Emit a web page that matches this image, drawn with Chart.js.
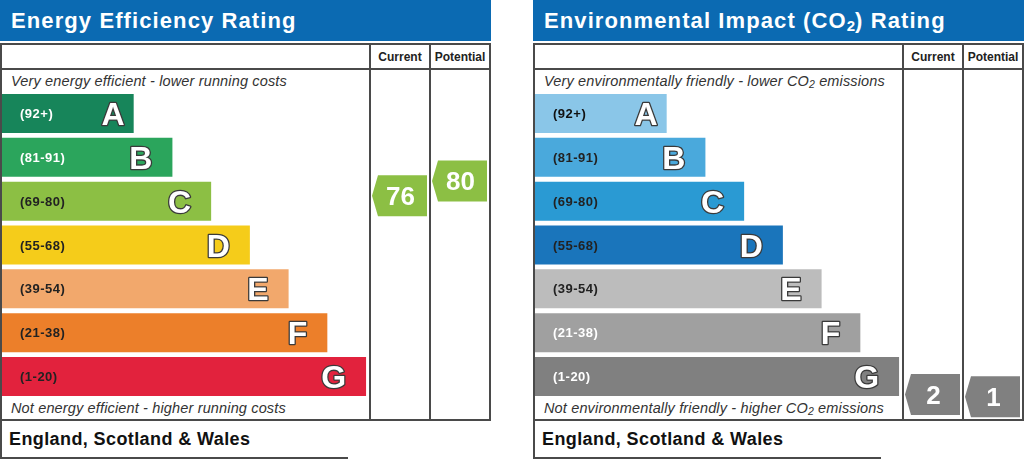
<!DOCTYPE html>
<html><head><meta charset="utf-8">
<script src="https://cdn.jsdelivr.net/npm/chart.js@4.4.1/dist/chart.umd.min.js"></script>
<style>
html,body{margin:0;padding:0;}
body{width:1024px;height:460px;background:#fff;overflow:hidden;position:relative;font-family:"Liberation Sans",Arial,sans-serif;}
.panel{position:absolute;top:0;width:491px;height:460px;}
.hdr{position:absolute;left:0;top:0;width:491px;height:41px;background:#0b6ab2;color:#fff;font-weight:bold;font-size:22px;letter-spacing:1.1px;line-height:41px;padding-left:11px;box-sizing:border-box;white-space:nowrap;}
.hdr sub{font-size:15px;vertical-align:-3px;line-height:0;letter-spacing:0;}
.box{position:absolute;left:0;top:43px;width:491px;height:378px;border:2px solid #4a4a4a;box-sizing:border-box;}
.vl{position:absolute;top:43px;width:2px;height:378px;background:#4a4a4a;}
.hl{position:absolute;left:0;top:68px;width:491px;height:2px;background:#4a4a4a;}
.col{position:absolute;top:46px;height:23px;line-height:23px;width:60px;text-align:center;font-weight:bold;font-size:12px;color:#222;}
.it{position:absolute;left:11px;font-style:italic;font-size:14.5px;letter-spacing:0.15px;color:#333;white-space:nowrap;line-height:16px;}
.it sub{font-size:10.5px;vertical-align:-2px;line-height:0;}
.foot{position:absolute;left:0;top:421px;width:348px;height:38px;border-left:2px solid #4a4a4a;border-bottom:2px solid #4a4a4a;box-sizing:border-box;font-weight:bold;font-size:18px;letter-spacing:0.4px;color:#111;line-height:36px;padding-left:7px;white-space:nowrap;}
canvas{position:absolute;left:0;top:0;}
</style></head>
<body>
<div class="panel" id="p1" style="left:0">
  <div class="hdr">Energy Efficiency Rating</div>
  <div class="box"></div>
  <div class="hl"></div>
  <div class="vl" style="left:369px"></div>
  <div class="vl" style="left:429px"></div>
  <div class="col" style="left:370px">Current</div>
  <div class="col" style="left:430px">Potential</div>
  <div class="it" style="top:73px">Very energy efficient - lower running costs</div>
  <div class="it" style="top:400px">Not energy efficient - higher running costs</div>
  <div class="foot">England, Scotland &amp; Wales</div>
  <canvas id="c1" width="491" height="460"></canvas>
</div>
<div class="panel" id="p2" style="left:533px">
  <div class="hdr">Environmental Impact (CO<sub>2</sub>) Rating</div>
  <div class="box"></div>
  <div class="hl"></div>
  <div class="vl" style="left:369px"></div>
  <div class="vl" style="left:429px"></div>
  <div class="col" style="left:370px">Current</div>
  <div class="col" style="left:430px">Potential</div>
  <div class="it" style="top:73px">Very environmentally friendly - lower CO<sub>2</sub> emissions</div>
  <div class="it" style="top:400px">Not environmentally friendly - higher CO<sub>2</sub> emissions</div>
  <div class="foot">England, Scotland &amp; Wales</div>
  <canvas id="c2" width="491" height="460"></canvas>
</div>
<script>
// ---- data ----
const bandLetters = ['A','B','C','D','E','F','G'];
const bandRanges = ['(92+)','(81-91)','(69-80)','(55-68)','(39-54)','(21-38)','(1-20)'];
const bandLow  = [92, 81, 69, 55, 39, 21, 1];
const bandHigh = [100, 91, 80, 68, 54, 38, 20];
const barLengths = [34, 44, 54, 64, 74, 84, 94];
const energyRatings = [76, 80];      // current, potential
const impactRatings = [2, 1];        // current, potential

// ---- styles ----
const energyColors = ['#17855a','#2ba55c','#8cbf44','#f5cc1a','#f2a86c','#ec7f2a','#e2223d'];
const energyTextColors = ['#fff','#fff','#222','#222','#222','#222','#222'];
const impactColors = ['#8ac6e8','#4aa9dc','#2a9ad3','#1a75bb','#bcbcbc','#a0a0a0','#808080'];
const impactTextColors = ['#111','#222','#222','#222','#222','#fff','#fff'];
const FONT = '"Liberation Sans", Arial, sans-serif';
const columns = [[370,430],[430,490]];

function bandOf(s){
  for (let i=0;i<bandLow.length;i++){ if (s>=bandLow[i] && s<=bandHigh[i]) return i; }
  return bandLow.length-1;
}

const epcPlugin = {
  id:'epc',
  afterDatasetsDraw(chart, args, opts){
    const ctx = chart.ctx;
    const meta = chart.getDatasetMeta(0);
    const yScale = chart.scales.y;
    meta.data.forEach((bar,i)=>{
      ctx.save();
      ctx.font = 'bold 13px ' + FONT;
      ctx.letterSpacing = '0.5px';
      ctx.fillStyle = opts.textColors[i];
      ctx.textBaseline = 'middle';
      ctx.textAlign = 'left';
      ctx.fillText(bandRanges[i], 20, bar.y + 1);
      ctx.letterSpacing = '0px';
      ctx.font = 'bold 32px ' + FONT;
      ctx.textAlign = 'right';
      ctx.textBaseline = 'alphabetic';
      ctx.lineJoin = 'round';
      ctx.lineWidth = 2.6;
      ctx.strokeStyle = '#3a3a3a';
      const gap = i === 0 ? 9 : 20;
      ctx.strokeText(bandLetters[i], bar.x - gap, bar.y + 11.5);
      ctx.fillStyle = '#fff';
      ctx.fillText(bandLetters[i], bar.x - gap, bar.y + 11.5);
      ctx.restore();
    });
    opts.ratings.forEach((s,k)=>{
      const i = bandOf(s);
      const f = (s - bandLow[i]) / (bandHigh[i] - bandLow[i]);
      const yc = yScale.getPixelForValue(i + (0.5 - f) * 0.92);
      const x0 = columns[k][0] + 2, x1 = columns[k][1] - 3;
      const h = 41, d = 6;
      ctx.save();
      ctx.fillStyle = opts.colors[i];
      ctx.beginPath();
      ctx.moveTo(x0, yc);
      ctx.lineTo(x0 + d, yc - h/2);
      ctx.lineTo(x1, yc - h/2);
      ctx.lineTo(x1, yc + h/2);
      ctx.lineTo(x0 + d, yc + h/2);
      ctx.closePath();
      ctx.fill();
      ctx.fillStyle = '#fff';
      ctx.font = 'bold 26px ' + FONT;
      ctx.textAlign = 'center';
      ctx.textBaseline = 'alphabetic';
      ctx.fillText(String(s), (x0 + x1)/2 + 1, yc + 9.5);
      ctx.restore();
    });
  }
};

function makeChart(id, colors, textColors, ratings){
  return new Chart(document.getElementById(id), {
    type:'bar',
    data:{
      labels: bandLetters,
      datasets:[{ data: barLengths, backgroundColor: colors, borderWidth:0, barPercentage:0.89, categoryPercentage:1 }]
    },
    options:{
      indexAxis:'y',
      responsive:false,
      animation:false,
      events:[],
      layout:{ padding:{ left:2, right:1, top:91.5, bottom:61.5 } },
      scales:{
        x:{ type:'linear', min:0, max:126, display:false },
        y:{ type:'category', display:false, offset:true, grid:{display:false} }
      },
      plugins:{
        legend:{display:false},
        tooltip:{enabled:false},
        epc:{ colors, textColors, ratings }
      }
    },
    plugins:[epcPlugin]
  });
}
makeChart('c1', energyColors, energyTextColors, energyRatings);
makeChart('c2', impactColors, impactTextColors, impactRatings);
</script>
</body></html>
